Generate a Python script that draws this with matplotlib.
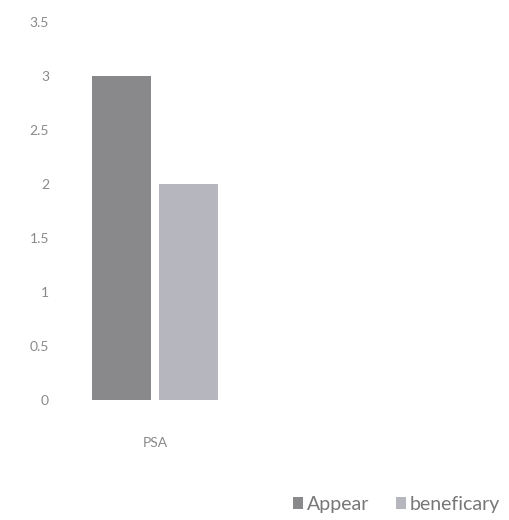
import matplotlib.pyplot as plt

# Chart data
categories = ["PSA"]
series_names = ["Appear", "beneficary"]
appear_values = [3]
beneficary_values = [2]
y_ticks = [0, 0.5, 1, 1.5, 2, 2.5, 3, 3.5]

plt.rcParams["font.family"] = ["Lato", "DejaVu Sans"]

fig = plt.figure(figsize=(5.1, 5.2), dpi=100)
ax = fig.add_axes([0.118, 0.2308, 0.372, 0.727])

width = 0.31
offset = 0.175
x = list(range(len(categories)))
b1 = ax.bar([i - offset for i in x], appear_values, width, color="#89898b",
            label=series_names[0])
b2 = ax.bar([i + offset for i in x], beneficary_values, width, color="#b6b6be",
            label=series_names[1])

ax.set_xlim(-0.5, len(categories) - 0.5)
ax.set_ylim(0, 3.5)
ax.set_yticks(y_ticks)
ax.set_yticklabels([f"{t:g}" for t in y_ticks])
ax.set_xticks(x)
ax.set_xticklabels(categories)
ax.tick_params(length=0, colors="#8a8a8a", labelsize=10)
ax.tick_params(axis="y", pad=8)
ax.tick_params(axis="x", pad=27)
for s in ax.spines.values():
    s.set_visible(False)

fig.legend(handles=[b1, b2], loc="lower right", bbox_to_anchor=(1.015, -0.02),
           ncol=2, frameon=False, fontsize=14, labelcolor="#777777",
           handlelength=0.5, handleheight=0.5, handletextpad=0.2,
           columnspacing=1.4)

fig.savefig("out.png", dpi=100, facecolor="white")
